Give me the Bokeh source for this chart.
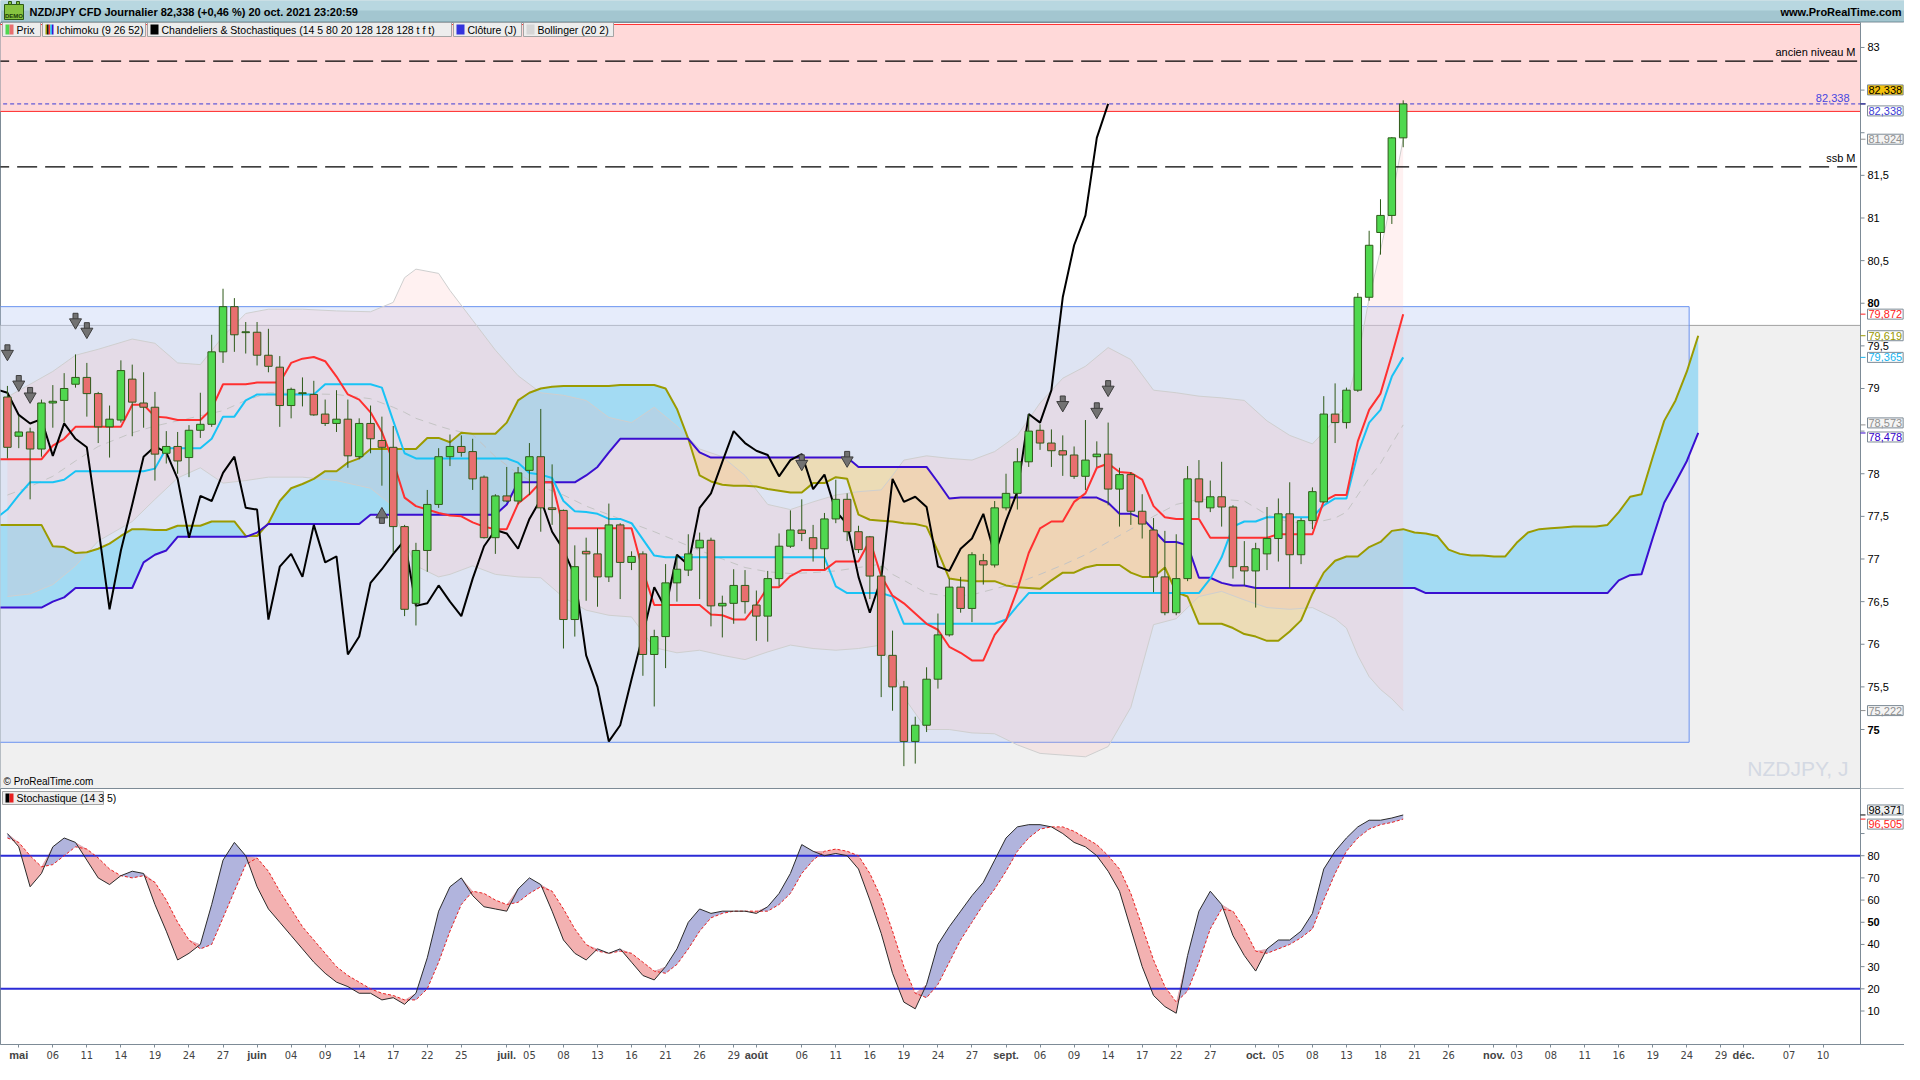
import numpy as np
import pandas as pd
from bokeh.plotting import figure
from bokeh.layouts import column
from bokeh.models import Range1d, FixedTicker, Label, LinearAxis
from bokeh.embed import file_html
from bokeh.resources import INLINE
from bokeh.core.properties import value

# ======================= DATA =======================
first_session = "2021-04-30"   # session position 0 (weekdays only)

candle_open = [
    78.90, 78.44, 78.49, 78.29, 78.83, 78.86, 79.05, 79.13, 78.94, 78.55,
    78.63, 79.11, 78.83, 78.78, 78.24, 78.32, 78.19, 78.51, 78.58, 79.43,
    79.96, 79.655, 79.66, 79.39, 79.25, 78.80, 78.94, 78.93, 78.70, 78.59,
    78.64, 78.20, 78.59, 78.39, 78.31, 77.38, 76.48, 77.10, 77.64, 78.20,
    78.32, 78.26, 77.96, 77.25, 77.74, 77.68, 78.04, 78.20, 77.60, 77.57,
    76.29, 77.09, 77.06, 76.79, 77.40, 76.96, 77.06, 75.88, 76.09, 76.72,
    76.87, 77.13, 77.22, 76.45, 76.48, 76.69, 76.46, 76.33, 76.77, 77.15,
    77.34, 77.25, 77.12, 77.47, 77.70, 77.32, 77.26, 76.80, 75.87, 75.50,
    74.86, 75.05, 75.59, 76.11, 76.67, 76.42, 76.98, 76.93, 77.60, 77.77,
    78.14, 78.51, 78.36, 78.27, 78.22, 77.97, 78.20, 78.23, 77.82, 77.99,
    77.56, 77.34, 76.79, 76.37, 76.77, 77.94, 77.60, 77.73, 77.61, 76.91,
    76.86, 77.06, 77.24, 77.53, 77.05, 77.45, 77.67, 78.70, 78.60, 78.98,
    80.07, 80.83, 81.03, 81.94]
candle_high = [
    79.03, 78.68, 78.54, 78.87, 79.04, 79.18, 79.40, 79.30, 78.96, 78.80,
    79.33, 79.28, 79.19, 78.96, 78.50, 78.49, 78.57, 78.95, 79.63, 80.17,
    80.06, 79.78, 79.78, 79.70, 79.38, 79.01, 79.13, 79.09, 78.87, 78.98,
    78.87, 78.65, 78.80, 78.67, 78.56, 77.40, 77.19, 77.81, 78.30, 78.46,
    78.45, 78.41, 77.98, 77.76, 78.08, 78.08, 78.36, 78.76, 78.11, 77.58,
    77.16, 77.25, 77.36, 77.65, 77.42, 77.09, 77.09, 76.17, 76.94, 77.04,
    77.29, 77.31, 77.25, 76.57, 76.88, 76.87, 76.63, 76.86, 77.30, 77.57,
    77.70, 77.40, 77.54, 77.93, 77.77, 77.39, 77.27, 76.92, 76.16, 75.57,
    75.15, 75.73, 76.36, 76.77, 76.79, 77.08, 77.06, 77.68, 78.00, 78.30,
    78.70, 78.58, 78.52, 78.45, 78.32, 78.63, 78.38, 78.60, 78.07, 78.02,
    77.76, 77.48, 77.33, 77.29, 78.09, 78.16, 77.92, 78.14, 77.63, 77.21,
    77.19, 77.61, 77.71, 77.90, 77.48, 77.84, 78.91, 79.06, 79.01, 80.12,
    80.85, 81.22, 81.95, 82.38]
candle_low = [
    78.18, 78.30, 77.70, 78.20, 78.54, 78.60, 79.01, 78.67, 78.36, 78.19,
    78.60, 78.44, 78.54, 77.92, 78.12, 78.00, 77.96, 78.42, 78.55, 79.30,
    79.43, 79.41, 79.27, 79.19, 78.55, 78.65, 78.79, 78.68, 78.56, 78.49,
    78.07, 78.17, 78.24, 77.86, 77.07, 76.33, 76.22, 76.85, 77.60, 78.09,
    78.20, 77.81, 77.24, 77.06, 77.67, 77.64, 77.75, 77.32, 77.40, 75.95,
    76.09, 76.51, 76.44, 76.73, 76.53, 76.87, 75.63, 75.27, 75.72, 76.50,
    76.80, 76.53, 76.21, 76.08, 76.24, 76.36, 76.04, 76.03, 76.68, 77.13,
    77.21, 76.97, 76.88, 77.42, 77.21, 77.07, 76.53, 75.38, 75.22, 74.57,
    74.60, 74.97, 75.48, 76.09, 76.37, 76.26, 76.70, 76.90, 77.57, 77.58,
    78.08, 78.28, 78.08, 77.975, 77.94, 77.81, 78.08, 77.63, 77.38, 77.40,
    77.24, 76.61, 76.34, 76.34, 76.74, 77.48, 77.55, 77.38, 76.77, 76.69,
    76.43, 76.87, 76.97, 76.66, 76.94, 77.35, 77.66, 78.36, 78.53, 78.96,
    80.03, 80.57, 80.93, 81.83]
candle_close = [
    78.31, 78.49, 78.29, 78.83, 78.85, 79.00, 79.13, 78.94, 78.55, 78.64,
    79.21, 78.84, 78.78, 78.23, 78.32, 78.15, 78.51, 78.58, 79.43, 79.96,
    79.63, 79.665, 79.39, 79.26, 78.80, 78.99, 78.95, 78.69, 78.59, 78.64,
    78.21, 78.59, 78.41, 78.31, 77.38, 76.41, 77.10, 77.64, 78.20, 78.32,
    78.25, 77.94, 77.25, 77.74, 77.68, 78.01, 78.20, 77.60, 77.58, 76.29,
    76.91, 77.06, 76.79, 77.40, 76.96, 77.03, 75.88, 76.09, 76.72, 76.88,
    77.06, 77.22, 76.45, 76.48, 76.69, 76.50, 76.33, 76.77, 77.15, 77.34,
    77.30, 77.12, 77.47, 77.70, 77.32, 77.11, 76.80, 75.87, 75.50, 74.86,
    75.05, 75.59, 76.11, 76.67, 76.42, 77.05, 76.93, 77.60, 77.77, 78.14,
    78.50, 78.36, 78.27, 78.22, 77.97, 78.16, 78.23, 77.82, 77.99, 77.56,
    77.41, 76.79, 76.37, 76.77, 77.94, 77.67, 77.73, 77.61, 76.91, 76.86,
    77.12, 77.24, 77.53, 77.05, 77.45, 77.79, 78.70, 78.60, 78.98, 80.07,
    80.68, 81.03, 81.94, 82.338]

ichimoku_first_pos = -1
tenkan = [
    78.17, 78.17, 78.17, 78.17, 78.17, 78.33, 78.41, 78.55, 78.55, 78.55,
    78.55, 78.55, 78.81, 78.81, 78.67, 78.66, 78.63, 78.63, 78.63, 78.76,
    79.05, 79.05, 79.05, 79.07, 79.07, 79.07, 79.30, 79.35, 79.37, 79.32,
    79.14, 78.93, 78.87, 78.72, 78.49, 78.14, 77.72, 77.62, 77.58, 77.54,
    77.51, 77.50, 77.43, 77.38, 77.35, 77.35, 77.65, 77.76, 77.90, 77.90,
    77.36, 77.36, 77.36, 77.36, 77.36, 77.36, 77.36, 76.86, 76.46, 76.46,
    76.46, 76.46, 76.46, 76.35, 76.34, 76.29, 76.29, 76.46, 76.67, 76.67,
    76.80, 76.87, 76.87, 76.87, 76.97, 76.97, 76.97, 77.22, 76.80, 76.57,
    76.48, 76.36, 76.24, 76.17, 75.97, 75.90, 75.81, 75.81, 76.11, 76.28,
    76.64, 77.07, 77.36, 77.44, 77.44, 77.67, 77.77, 78.07, 78.12, 78.02,
    78.01, 77.93, 77.62, 77.49, 77.47, 77.47, 77.47, 77.25, 77.25, 77.25,
    77.25, 77.25, 77.25, 77.29, 77.29, 77.29, 77.29, 77.68, 77.75, 77.75,
    78.38, 78.75, 78.94, 79.39, 79.872]
kijun = [
    77.48, 77.58, 77.75, 77.90, 77.90, 77.90, 77.93, 78.03, 78.03, 78.03,
    78.03, 78.03, 78.03, 78.03, 78.06, 78.30, 78.30, 78.30, 78.30, 78.41,
    78.67, 78.67, 78.86, 78.93, 78.93, 78.93, 78.93, 78.93, 78.93, 79.05,
    79.05, 79.05, 79.05, 79.05, 79.01, 78.62, 78.24, 78.18, 78.18, 78.18,
    78.18, 78.18, 78.18, 78.18, 78.18, 78.18, 78.13, 78.01, 77.99, 77.95,
    77.68, 77.56, 77.55, 77.53, 77.47, 77.47, 77.42, 77.23, 77.04, 77.02,
    77.02, 77.02, 77.02, 77.02, 77.02, 77.02, 77.02, 77.02, 77.02, 77.02,
    77.02, 77.02, 77.02, 77.02, 76.68, 76.60, 76.60, 76.60, 76.60, 76.56,
    76.24, 76.24, 76.24, 76.24, 76.24, 76.24, 76.24, 76.24, 76.24, 76.29,
    76.45, 76.60, 76.60, 76.60, 76.60, 76.60, 76.60, 76.60, 76.60, 76.60,
    76.60, 76.60, 76.60, 76.60, 76.60, 76.60, 76.60, 76.77, 77.02, 77.38,
    77.44, 77.44, 77.49, 77.49, 77.49, 77.49, 77.49, 77.63, 77.71, 77.71,
    78.24, 78.60, 78.75, 79.14, 79.365]
senkou_first_pos = -1
senkou_a = [
    77.40, 77.40, 77.40, 77.40, 77.40, 77.15, 77.14, 77.07, 77.08, 77.12,
    77.18, 77.27, 77.35, 77.35, 77.34, 77.34, 77.39, 77.39, 77.39, 77.44,
    77.44, 77.44, 77.27, 77.27, 77.42, 77.68, 77.83, 77.88, 77.94, 78.03,
    78.03, 78.13, 78.18, 78.29, 78.29, 78.29, 78.29, 78.29, 78.42, 78.42,
    78.37, 78.48, 78.47, 78.47, 78.47, 78.60, 78.86, 78.95, 79.00, 79.02,
    79.03, 79.03, 79.03, 79.03, 79.03, 79.04, 79.04, 79.04, 79.04, 79.00,
    78.76, 78.41, 77.98, 77.91, 77.87, 77.86, 77.86, 77.85, 77.82, 77.80,
    77.78, 77.78, 77.89, 77.89, 77.96, 77.94, 77.52, 77.46, 77.45, 77.44,
    77.42, 77.41, 77.38, 77.09, 76.77, 76.75, 76.74, 76.74, 76.74, 76.69,
    76.67, 76.66, 76.65, 76.75, 76.84, 76.84, 76.90, 76.93, 76.93, 76.93,
    76.84, 76.79, 76.79, 76.90, 76.61, 76.56, 76.24, 76.24, 76.24, 76.19,
    76.12, 76.09, 76.04, 76.04, 76.15, 76.28, 76.59, 76.84, 76.98, 77.03,
    77.03, 77.14, 77.20, 77.33, 77.35, 77.31, 77.30, 77.27, 77.11, 77.06,
    77.04, 77.04, 77.03, 77.03, 77.19, 77.31, 77.35, 77.36, 77.37, 77.38,
    77.38, 77.38, 77.40, 77.55, 77.73, 77.76, 78.20, 78.62, 78.86, 79.20,
    79.619]
senkou_b = [
    76.43, 76.43, 76.43, 76.43, 76.43, 76.50, 76.55, 76.66, 76.66, 76.66,
    76.66, 76.66, 76.66, 76.96, 77.05, 77.10, 77.26, 77.26, 77.26, 77.26,
    77.26, 77.26, 77.26, 77.31, 77.41, 77.41, 77.41, 77.41, 77.41, 77.41,
    77.41, 77.41, 77.41, 77.52, 77.52, 77.52, 77.52, 77.52, 77.52, 77.52,
    77.52, 77.52, 77.52, 77.52, 77.52, 77.64, 77.90, 77.90, 77.90, 77.90,
    77.90, 77.90, 77.98, 78.08, 78.25, 78.41, 78.41, 78.41, 78.41, 78.41,
    78.41, 78.41, 78.25, 78.19, 78.19, 78.19, 78.19, 78.19, 78.19, 78.19,
    78.19, 78.19, 78.19, 78.19, 78.19, 78.19, 78.08, 78.08, 78.08, 78.08,
    78.08, 78.08, 78.08, 77.90, 77.71, 77.72, 77.72, 77.72, 77.72, 77.72,
    77.72, 77.72, 77.72, 77.72, 77.72, 77.72, 77.72, 77.72, 77.66, 77.53,
    77.53, 77.48, 77.34, 77.20, 77.20, 77.16, 76.78, 76.78, 76.72, 76.69,
    76.69, 76.66, 76.66, 76.66, 76.66, 76.66, 76.66, 76.66, 76.66, 76.66,
    76.66, 76.66, 76.66, 76.66, 76.66, 76.66, 76.60, 76.60, 76.60, 76.60,
    76.60, 76.60, 76.60, 76.60, 76.60, 76.60, 76.60, 76.60, 76.60, 76.60,
    76.60, 76.60, 76.60, 76.75, 76.81, 76.82, 77.25, 77.66, 77.90, 78.15,
    78.478]
chikou_shift = 26

bb_pos = [0, 2, 4, 6, 8, 11, 13, 15, 17, 19, 21, 23, 26, 29, 32, 34, 35, 36, 38, 39,
          41, 43, 45, 47, 49, 51, 53, 55, 57, 59, 61, 63, 65, 67, 69, 71, 73, 75, 77, 78,
          79, 81, 83, 85, 87, 89, 91, 93, 95, 97, 99, 101, 103, 105, 107, 109, 111, 113, 115, 117,
          118, 119, 120, 121, 122, 123]
bb_upper = [78.90, 79.05, 79.20, 79.39, 79.46, 79.58, 79.53, 79.30, 79.28, 79.61,
            79.88, 79.93, 79.93, 79.91, 79.90, 80.01, 80.30, 80.40, 80.35, 80.15,
            79.80, 79.45, 79.15, 78.95, 78.92, 78.86, 78.66, 78.60, 78.78, 78.56,
            78.29, 78.20, 77.98, 77.64, 77.58, 77.67, 77.75, 77.79, 77.81, 77.98,
            78.16, 78.21, 78.18, 78.16, 78.26, 78.45, 78.83, 79.12, 79.26, 79.48,
            79.34, 78.98, 78.95, 78.91, 78.89, 78.86, 78.62, 78.45, 78.35, 78.63,
            78.83, 79.34, 80.06, 80.62, 81.23, 81.924]
bb_middle = [77.75, 77.85, 77.97, 78.15, 78.32, 78.48, 78.56, 78.62, 78.68, 78.74,
             78.86, 78.95, 78.94, 78.93, 78.88, 78.78, 78.72, 78.65, 78.56, 78.52,
             78.46, 78.20, 78.00, 77.85, 77.75, 77.62, 77.52, 77.42, 77.32, 77.21,
             77.10, 77.00, 76.90, 76.85, 76.83, 76.84, 76.86, 76.90, 76.94, 76.82,
             76.75, 76.60, 76.56, 76.58, 76.65, 76.72, 76.82, 76.93, 77.05, 77.20,
             77.35, 77.50, 77.64, 77.70, 77.70, 77.68, 77.52, 77.43, 77.42, 77.48,
             77.55, 77.75, 77.95, 78.12, 78.35, 78.573]
bb_lower = [76.56, 76.59, 76.70, 76.92, 77.21, 77.44, 77.70, 77.95, 78.07, 77.89,
            77.92, 77.96, 77.96, 77.92, 77.83, 77.62, 77.21, 76.92, 76.79, 76.82,
            76.92, 76.82, 76.79, 76.78, 76.55, 76.40, 76.34, 76.32, 75.96, 75.90,
            75.93, 75.87, 75.82, 75.91, 75.99, 75.95, 75.93, 75.95, 75.99, 75.72,
            75.38, 75.00, 75.00, 74.96, 74.95, 74.82, 74.72, 74.70, 74.68, 74.80,
            75.26, 76.23, 76.30, 76.56, 76.62, 76.52, 76.43, 76.41, 76.43, 76.30,
            76.19, 75.87, 75.62, 75.47, 75.36, 75.222]

stoch_k = [90, 84, 66, 72, 84, 88, 86, 78, 70, 67,
           71, 73, 72, 58, 46, 33, 36, 40, 58, 78,
           86, 80, 66, 56, 50, 44, 38, 32, 27, 23,
           21, 18, 18, 15, 16, 13, 18, 34, 55, 66,
           70, 62, 57, 56, 55, 65, 70, 67, 55, 42,
           36, 33, 38, 36, 38, 32, 26, 24, 30, 38,
           50, 56, 54, 55, 55, 55, 54, 57, 63, 72,
           85, 82, 80, 81, 80, 74, 60, 45, 27, 14,
           11, 22, 40, 48, 55, 62, 68, 78, 88, 93,
           94, 94, 93, 90, 86, 84, 80, 73, 64, 47,
           30, 17, 12, 9, 35, 55, 64, 58, 44, 35,
           28, 38, 42, 42, 46, 54, 74, 82, 88, 93,
           96, 96, 97, 98.371]
stoch_d = [88, 86, 80, 75, 76, 80, 84, 83, 79, 74,
           71, 70, 71, 68, 60, 50, 42, 38, 40, 52,
           64, 76, 79, 73, 64, 56, 48, 42, 36, 30,
           26, 23, 20, 18, 17, 15, 15, 20, 32, 46,
           58, 64, 63, 60, 58, 59, 63, 66, 64, 56,
           47, 40, 37, 36, 37, 36, 32, 28, 27, 31,
           38, 46, 52, 54, 55, 55, 55, 55, 58, 63,
           72, 78, 82, 83, 82, 80, 72, 61, 46, 30,
           18, 16, 22, 32, 42, 50, 58, 65, 73, 82,
           88, 92, 93, 93, 91, 88, 85, 80, 74, 63,
           48, 33, 21, 14, 19, 32, 47, 56, 55, 47,
           37, 36, 38, 40, 43, 47, 60, 72, 82, 88,
           92, 94, 95, 96.505]
stoch_levels = [80, 20]

sell_arrow_pos = [0, 1, 2, 6, 7, 70, 74, 93, 96, 97]
sell_arrow_price = [79.43, 79.07, 78.93, 79.80, 79.69, 78.14, 78.18, 78.83, 78.75, 79.01]
buy_arrow_pos = [33]
buy_arrow_price = [77.50]

ancien_niveau_m = 82.84
ssb_m = 81.60
last_price = 82.338
resistance_zone = [82.25, 83.27]
support_zone_top = 79.74
range_box = [74.85, 79.96]
range_box_end_pos = 148.2

price_ticks = [75, 75.5, 76, 76.5, 77, 77.5, 78, 78.5, 79, 79.5, 80, 80.5, 81, 81.5, 82, 82.5, 83]
price_bold_ticks = [75, 80]
stoch_ticks = [10, 20, 30, 40, 50, 60, 70, 80, 90]
stoch_bold_ticks = [50]
axis_dates = ["2021-05-03", "2021-05-06", "2021-05-11", "2021-05-14", "2021-05-19", "2021-05-24", "2021-05-27",
              "2021-06-01", "2021-06-04", "2021-06-09", "2021-06-14", "2021-06-17", "2021-06-22", "2021-06-25",
              "2021-07-01", "2021-07-05", "2021-07-08", "2021-07-13", "2021-07-16", "2021-07-21", "2021-07-26", "2021-07-29",
              "2021-08-02", "2021-08-06", "2021-08-11", "2021-08-16", "2021-08-19", "2021-08-24", "2021-08-27",
              "2021-09-01", "2021-09-06", "2021-09-09", "2021-09-14", "2021-09-17", "2021-09-22", "2021-09-27",
              "2021-10-01", "2021-10-05", "2021-10-08", "2021-10-13", "2021-10-18", "2021-10-21", "2021-10-26",
              "2021-11-01", "2021-11-03", "2021-11-08", "2021-11-11", "2021-11-16", "2021-11-19", "2021-11-24", "2021-11-29",
              "2021-12-01", "2021-12-07", "2021-12-10"]
axis_labels = ["mai", "06", "11", "14", "19", "24", "27",
               "juin", "04", "09", "14", "17", "22", "25",
               "juil.", "05", "08", "13", "16", "21", "26", "29",
               "août", "06", "11", "16", "19", "24", "27",
               "sept.", "06", "09", "14", "17", "22", "27",
               "oct.", "05", "08", "13", "18", "21", "26",
               "nov.", "03", "08", "11", "16", "19", "24", "29",
               "déc.", "07", "10"]
month_labels = ["mai", "juin", "juil.", "août", "sept.", "oct.", "nov.", "déc."]

title_text = "NZD/JPY CFD Journalier 82,338 (+0,46 %) 20 oct. 2021 23:20:59"
site_text = "www.ProRealTime.com"
legend_items = ["Prix", "Ichimoku (9 26 52)", "Chandeliers & Stochastiques (14 5 80 20 128 128 128 t f t)",
                "Clôture (J)", "Bollinger (20 2)"]

# ======================= LAYOUT / STYLE =======================
TOTAL_W = 1904
AXIS_W = 44
FRAME_W = TOTAL_W - AXIS_W
HEADER_H = 22
PRICE_H = 766
STOCH_H = 256
XAXIS_H = 20

X_LO, X_HI = -0.61, 163.3          # data span of the chart area
DXP = (X_HI - X_LO) / FRAME_W
X_AX = X_HI                         # value axis line
X_END = X_LO + TOTAL_W * DXP        # frame also covers the value-axis strip
PY_LO, PY_HI = 74.308, 83.293
SY_LO, SY_HI = -5.1, 110.3
DYP = (PY_HI - PY_LO) / PRICE_H
DYS = (SY_HI - SY_LO) / STOCH_H

FONT = "Liberation Sans"
NARROW = "Liberation Sans Narrow, DejaVu Sans Condensed, Liberation Sans"
AXIS_COLOR = "#7d8b96"
GREEN = "#4fd84f"
RED = "#e86f6f"
WICK = "#2f5a1a"
C_TENKAN = "#ff3030"
C_KIJUN = "#19c3f5"
C_SSA = "#9b9b00"
C_SSB = "#3a0fd0"


def px2x(px):
    return X_LO + px * DXP


def px2py(px):
    return PY_HI - px * DYP


def px2sy(px):
    return SY_HI - px * DYS


def fmt(v, nd=3):
    return f"{v:.{nd}f}".replace(".", ",")


def value_axis(fig, ticks, bold_ticks, boxes, y_lo, y_hi, dy):
    """Right-hand value scale drawn inside the frame strip [X_AX, X_END]."""
    fig.quad(left=X_AX, right=X_END + 1, top=y_hi + 5 * dy, bottom=y_lo - 5 * dy,
             fill_color="#ffffff", line_color=None)
    fig.segment(x0=[X_AX], y0=[y_lo - 5 * dy], x1=[X_AX], y1=[y_hi + 5 * dy], line_color=AXIS_COLOR, line_width=1)
    n = len(ticks)
    fig.segment(x0=[X_AX] * n, y0=ticks, x1=[X_AX + 4 * DXP] * n, y1=ticks, line_color=AXIS_COLOR, line_width=1)
    box_y = [v - off * dy for v, off, _, _ in boxes]
    free = [t for t in ticks if all(abs(t - by) / dy > 10 for by in box_y)]
    for style, sel in (("normal", [t for t in free if t not in bold_ticks]),
                       ("bold", [t for t in free if t in bold_ticks])):
        if sel:
            fig.text(x=[X_AX + 7 * DXP] * len(sel), y=sel, text=[str(t).replace(".", ",") for t in sel],
                     text_font=value(FONT), text_font_size="11px", text_font_style=style,
                     text_align="left", text_baseline="middle", text_color="#000000")
    for (v, off, col, bg), by in zip(boxes, box_y):
        fig.segment(x0=[X_AX], y0=[v], x1=[X_AX + 5 * DXP], y1=[v], line_color=col, line_width=1)
        fig.add_layout(Label(x=X_AX, y=by, x_offset=7, text=fmt(v), text_color=col, text_font=FONT,
                             text_font_size="11px", text_align="left", text_baseline="middle",
                             background_fill_color=bg, border_line_color=AXIS_COLOR, padding=1))


sessions = pd.bdate_range(first_session, periods=200)
tick_pos = [int(sessions.get_loc(pd.Timestamp(d))) for d in axis_dates]

x_range = Range1d(X_LO, X_END)

# ----------------------- header -----------------------
hdr = figure(width=TOTAL_W, height=HEADER_H, x_range=Range1d(0, TOTAL_W), y_range=Range1d(0, HEADER_H),
             toolbar_location=None, output_backend="svg", x_axis_location=None, y_axis_location=None,
             min_border=0, background_fill_color="#a3c6d0", border_fill_color="#a3c6d0", outline_line_color=None)
hdr.grid.visible = False
hdr.quad(left=0, right=TOTAL_W, top=HEADER_H, bottom=HEADER_H * 0.55, fill_color="#b8d7e0", line_color=None)
hdr.quad(left=0, right=TOTAL_W, top=1, bottom=0, fill_color="#6f8e98", line_color=None)
hdr.quad(left=4, right=23, top=18, bottom=3, fill_color="#86c340", line_color="#2d5a16")
hdr.quad(left=8, right=11, top=21, bottom=18, fill_color="#86c340", line_color="#2d5a16")
hdr.quad(left=16, right=19, top=21, bottom=18, fill_color="#86c340", line_color="#2d5a16")
hdr.text(x=[13.5], y=[7], text=["DEMO"], text_font=value(FONT), text_font_size="6px", text_font_style="bold",
         text_align="center", text_baseline="middle", text_color="#1a3a08")
hdr.text(x=[29], y=[11], text=[title_text], text_font=value(FONT), text_font_size="11px", text_font_style="bold",
         text_align="left", text_baseline="middle", text_color="#000000")
hdr.text(x=[TOTAL_W - 3], y=[11], text=[site_text], text_font=value(FONT), text_font_size="11px",
         text_font_style="bold", text_align="right", text_baseline="middle", text_color="#000000")

# ----------------------- price panel -----------------------
pf = figure(width=TOTAL_W, height=PRICE_H, x_range=x_range, y_range=Range1d(PY_LO, PY_HI),
            toolbar_location=None, output_backend="svg", x_axis_location=None, y_axis_location=None,
            min_border=0, background_fill_color="#ffffff", border_fill_color="#ffffff",
            outline_line_color=AXIS_COLOR)
pf.grid.visible = False

# zones
pf.quad(left=X_LO - 10, right=X_AX, top=support_zone_top, bottom=PY_LO - 5,
        fill_color="#f0f0f0", line_color="#a0a0a0")
pf.quad(left=X_LO - 10, right=range_box_end_pos, top=range_box[1], bottom=range_box[0],
        fill_color="#c9d6f7", fill_alpha=0.46, line_color="#6b93f0", line_width=1)
pf.quad(left=X_LO - 10, right=X_AX, top=resistance_zone[1], bottom=resistance_zone[0],
        fill_color="#ffd9d9", line_color="#ff2a2a", line_width=1)

# ichimoku cloud
sa = np.array(senkou_a)
sb = np.array(senkou_b)
sx = np.arange(len(sa)) + senkou_first_pos
cloud_top = np.maximum(sa, sb)
pf.varea(x=sx, y1=sb, y2=cloud_top, fill_color="#a3dbf3", fill_alpha=1.0)
pf.varea(x=sx, y1=sa, y2=cloud_top, fill_color="#efd9a6", fill_alpha=0.8)

# bollinger
pf.varea(x=bb_pos, y1=bb_lower, y2=bb_upper, fill_color="#ffb4b4", fill_alpha=0.18)
pf.line(bb_pos, bb_upper, line_color="#cfcfcf", line_width=1)
pf.line(bb_pos, bb_lower, line_color="#cfcfcf", line_width=1)
pf.line(bb_pos, bb_middle, line_color="#c4c4c4", line_width=1, line_dash="8 6")

# level lines
lv = [ancien_niveau_m, ssb_m]
pf.segment(x0=[X_LO - 1] * 2, y0=lv, x1=[X_AX] * 2, y1=lv, line_color="#000000", line_width=1.3, line_dash="20 8")
pf.segment(x0=[X_LO - 1], y0=[last_price], x1=[X_AX], y1=[last_price], line_color="#3b3bd6", line_width=1,
           line_dash="4 3")

pf.text(x=[px2x(FRAME_W - 5)], y=[ancien_niveau_m + 3 * DYP], text=["ancien niveau M"], text_font=value(FONT),
        text_font_size="11px", text_align="right", text_baseline="bottom", text_color="#000000")
pf.text(x=[px2x(FRAME_W - 5)], y=[ssb_m + 3 * DYP], text=["ssb M"], text_font=value(FONT),
        text_font_size="11px", text_align="right", text_baseline="bottom", text_color="#000000")
pf.text(x=[px2x(FRAME_W - 11)], y=[last_price + 2 * DYP], text=[fmt(last_price)], text_font=value(FONT),
        text_font_size="11px", text_align="right", text_baseline="bottom", text_color="#4646e0")

# ichimoku lines
ix = np.arange(len(tenkan)) + ichimoku_first_pos
pf.line(sx, sa, line_color=C_SSA, line_width=2)
pf.line(sx, sb, line_color=C_SSB, line_width=2)
pf.line(ix, kijun, line_color=C_KIJUN, line_width=2)
pf.line(ix, tenkan, line_color=C_TENKAN, line_width=2)

cx = np.arange(len(candle_close))
pf.line(cx - chikou_shift, candle_close, line_color="#000000", line_width=2)

# candles
o = np.array(candle_open)
c = np.array(candle_close)
h = np.array(candle_high)
l = np.array(candle_low)
colors = [GREEN if cc >= oo else RED for oo, cc in zip(o, c)]
pf.segment(x0=cx, y0=l, x1=cx, y1=h, line_color=WICK, line_width=1)
pf.vbar(x=cx, width=0.66, top=np.maximum(o, c), bottom=np.minimum(o, c),
        fill_color=colors, line_color=WICK, line_width=1)

# signal arrows
sap = np.array(sell_arrow_pos)
sapr = np.array(sell_arrow_price)
pf.rect(x=sap, y=sapr + 3.5 * DYP, width=5, height=7, width_units="screen", height_units="screen",
        fill_color="#727272", line_color="#3e3e3e")
pf.scatter(x=sap, y=sapr - 2.0 * DYP, marker="inverted_triangle", size=12,
           fill_color="#727272", line_color="#3e3e3e")
bap = np.array(buy_arrow_pos)
bapr = np.array(buy_arrow_price)
pf.rect(x=bap, y=bapr - 3.5 * DYP, width=5, height=7, width_units="screen", height_units="screen",
        fill_color="#727272", line_color="#3e3e3e")
pf.scatter(x=bap, y=bapr + 2.0 * DYP, marker="triangle", size=12,
           fill_color="#727272", line_color="#3e3e3e")

# legend row (top-left)
leg_widths = [38, 103, 304, 68, 90]
left_px = 2
icon_sets = [[GREEN, RED], [C_SSA, "#000000", C_TENKAN, C_KIJUN, C_SSB], ["#000000"], ["#3333dd"], ["#d6d6d6"]]
for name, wpx, icons in zip(legend_items, leg_widths, icon_sets):
    pf.quad(left=px2x(left_px), right=px2x(left_px + wpx), top=px2py(0), bottom=px2py(14),
            fill_color="#ededed", line_color="#a4a4a4")
    n = len(icons)
    for k, col in enumerate(icons):
        pf.quad(left=px2x(left_px + 3 + 8 * k / n), right=px2x(left_px + 3 + 8 * (k + 1) / n),
                top=px2py(2), bottom=px2py(12), fill_color=col, line_color=None)
    pf.text(x=[px2x(left_px + 14)], y=[px2py(7)], text=[name], text_font=value(FONT), text_font_size="10.5px",
            text_align="left", text_baseline="middle", text_color="#000000")
    left_px += wpx + 2

pf.text(x=[px2x(3)], y=[px2py(PRICE_H - 7)], text=["© ProRealTime.com"], text_font=value(FONT),
        text_font_size="10px", text_align="left", text_baseline="middle", text_color="#000000")
pf.text(x=[px2x(FRAME_W - 12)], y=[px2py(PRICE_H - 20)], text=["NZDJPY, J"], text_font=value(FONT),
        text_font_size="21px", text_align="right", text_baseline="middle", text_color="#d4d9e3")

price_boxes = [
    (candle_close[-1], -14, "#000000", "#f4c20d"),
    (last_price, 7, "#3b3bd6", "#ffffff"),
    (bb_upper[-1], 0, "#909090", "#f4f4f4"),
    (tenkan[-1], 0, "#ff2020", "#ffffff"),
    (senkou_a[-1], 0, "#999900", "#ffffff"),
    (kijun[-1], 0, "#14b4f0", "#ffffff"),
    (bb_middle[-1], -2, "#909090", "#f4f4f4"),
    (senkou_b[-1], 4, "#3300cc", "#ffffff"),
    (bb_lower[-1], 0, "#909090", "#f4f4f4"),
]
value_axis(pf, price_ticks, price_bold_ticks, price_boxes, PY_LO, PY_HI, DYP)

# ----------------------- stochastic panel -----------------------
sf = figure(width=TOTAL_W, height=STOCH_H + XAXIS_H, x_range=x_range, y_range=Range1d(SY_LO, SY_HI),
            toolbar_location=None, output_backend="svg", x_axis_location="below", y_axis_location=None,
            min_border_left=0, min_border_right=0, min_border_top=0, min_border_bottom=XAXIS_H,
            background_fill_color="#ffffff", border_fill_color="#ffffff", outline_line_color=AXIS_COLOR)
sf.grid.visible = False

# date axis: day numbers (regular) ...
sxa = sf.xaxis[0]
sxa.ticker = FixedTicker(ticks=tick_pos)
sxa.major_label_overrides = {p_: ("" if lab in month_labels else lab) for p_, lab in zip(tick_pos, axis_labels)}
sxa.major_label_text_font = NARROW
sxa.major_label_text_font_size = "11px"
sxa.axis_line_color = AXIS_COLOR
sxa.major_tick_line_color = AXIS_COLOR
sxa.major_tick_out = 3
sxa.major_tick_in = 0
sxa.minor_tick_line_color = None
sxa.major_label_standoff = 3
# ... and month names (bold) on the same row
month_pos = [p_ for p_, lab in zip(tick_pos, axis_labels) if lab in month_labels]
max_ = LinearAxis(ticker=FixedTicker(ticks=month_pos),
                  major_label_overrides={p_: lab for p_, lab in zip(tick_pos, axis_labels) if lab in month_labels},
                  major_label_text_font=FONT, major_label_text_font_size="11px",
                  major_label_text_font_style="bold", axis_line_color=None, major_tick_line_color=None,
                  minor_tick_line_color=None, major_tick_out=0, major_tick_in=0, major_label_standoff=-13)
sf.add_layout(max_, "below")

kx = np.arange(len(stoch_k))
k_arr = np.array(stoch_k, dtype=float)
d_arr = np.array(stoch_d, dtype=float)
kd_top = np.maximum(k_arr, d_arr)
sf.varea(x=kx, y1=d_arr, y2=kd_top, fill_color="#a9acd9", fill_alpha=0.9)
sf.varea(x=kx, y1=k_arr, y2=kd_top, fill_color="#f2a9a9", fill_alpha=0.9)
sf.segment(x0=[X_LO - 1] * len(stoch_levels), y0=stoch_levels, x1=[X_AX] * len(stoch_levels), y1=stoch_levels,
           line_color="#2b2bd6", line_width=2)
sf.line(kx, d_arr, line_color="#e82020", line_width=1, line_dash="3 2")
sf.line(kx, k_arr, line_color="#2a2a2a", line_width=1)

sf.quad(left=px2x(2), right=px2x(103), top=px2sy(3), bottom=px2sy(16), fill_color="#ededed", line_color="#a4a4a4")
sf.quad(left=px2x(5), right=px2x(9), top=px2sy(5), bottom=px2sy(14), fill_color="#000000", line_color=None)
sf.quad(left=px2x(9), right=px2x(13), top=px2sy(5), bottom=px2sy(14), fill_color="#e82020", line_color=None)
sf.text(x=[px2x(16)], y=[px2sy(9.5)], text=["Stochastique (14 3 5)"], text_font=value(FONT),
        text_font_size="10.5px", text_align="left", text_baseline="middle", text_color="#000000")

stoch_boxes = [(stoch_k[-1], -5, "#000000", "#f0f0f0"), (stoch_d[-1], 5, "#ff1a1a", "#ffffff")]
value_axis(sf, stoch_ticks, stoch_bold_ticks, stoch_boxes, SY_LO, SY_HI, DYS)

layout = column(hdr, pf, sf, spacing=0)
open("out.html", "w").write(file_html(layout, INLINE))
